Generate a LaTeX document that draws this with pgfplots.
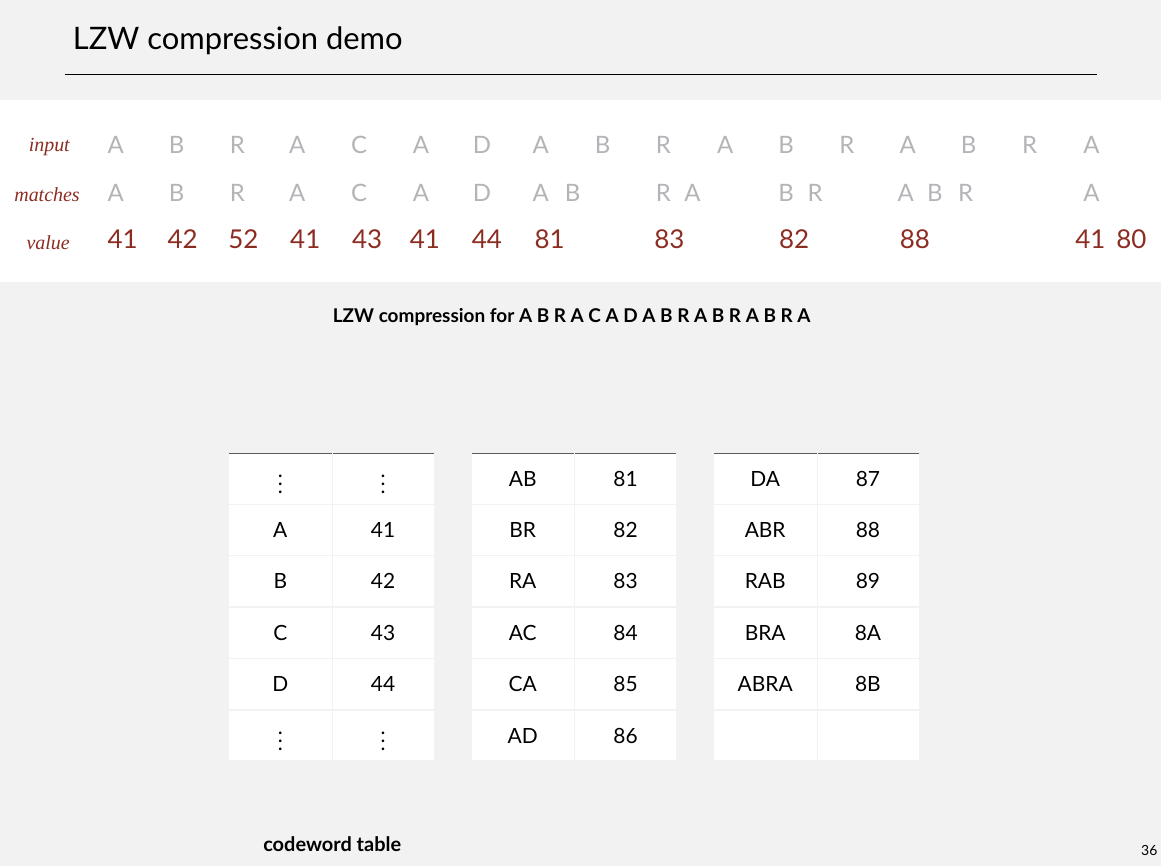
\documentclass[border=0pt]{standalone}
\usepackage{pgfplots}
\usepackage{pgfplotstable}
\pgfplotsset{compat=1.18}
\usepackage{fontspec}
\setmainfont{Lato}
\newfontfamily\serifit{Liberation Serif}
\definecolor{bg}{HTML}{F2F2F2}
\definecolor{dred}{HTML}{8C2D22}
\definecolor{lgray}{HTML}{B4B4B8}
\definecolor{hdr}{HTML}{5B5B5B}
\pgfplotstableread{
x y l
116 723 A
177 723 B
238 723 R
298 723 A
360 723 C
422 723 A
483 723 D
542 723 A
604 723 B
665 723 R
727 723 A
788 723 B
849 723 R
910 723 A
971 723 B
1032 723 R
1094 723 A
116 675 A
177 675 B
238 675 R
298 675 A
360 675 C
422 675 A
483 675 D
542 675 A
574 675 B
665 675 R
694 675 A
788 675 B
817 675 R
908 675 A
937 675 B
968 675 R
1094 675 A
}\letters
\pgfplotstableread{
x y l
123 628 41
183 628 42
244 628 52
306 628 41
368 628 43
426 628 41
488 628 44
551 628 81
671 628 83
796 628 82
917 628 88
1093 628 41
1134 628 80
}\vals
% #1 = left x, #2 = row index (1..6), #3 key, #4 value
\newcommand{\cell}[4]{%
  \fill[white] (axis cs:#1,414-#2*51.5+0.7) rectangle (axis cs:#1+102.5,414-#2*51.5+50.8);
  \fill[white] (axis cs:#1+103.5,414-#2*51.5+0.7) rectangle (axis cs:#1+205,414-#2*51.5+50.8);
  \node[font=\fontsize{10.5}{12}\selectfont] at (axis cs:#1+51,414-#2*51.5+25.75) {#3};
  \node[font=\fontsize{10.5}{12}\selectfont] at (axis cs:#1+154,414-#2*51.5+25.75) {#4};
}
\newcommand{\thead}[1]{%
  \fill[hdr] (axis cs:#1,363) rectangle (axis cs:#1+205,414);
  \draw[bg, line width=0.5pt] (axis cs:#1+103,363) -- (axis cs:#1+103,414);
  \node[text=white, font=\fontsize{11}{13}\selectfont] at (axis cs:#1+51,390) {key};
  \node[text=white, font=\fontsize{11}{13}\selectfont] at (axis cs:#1+154,390) {value};
}
\begin{document}
\begin{tikzpicture}
\begin{axis}[scale only axis, width=582pt, height=434pt, xmin=0, xmax=1164, ymin=0, ymax=868,
  axis lines=none, clip=false]
\fill[bg] (axis cs:0,0) rectangle (axis cs:1164,868);
\fill[white] (axis cs:0,585) rectangle (axis cs:1164,768);
\draw[black, line width=0.5pt] (axis cs:65,793) -- (axis cs:1100,793);
\node[anchor=west, font=\fontsize{15.5}{18}\selectfont] at (axis cs:66,827) {LZW compression demo};
\node[anchor=east, font=\serifit\itshape\fontsize{10}{12}\selectfont, text=dred] at (axis cs:77,721) {input};
\node[anchor=east, font=\serifit\itshape\fontsize{10}{12}\selectfont, text=dred] at (axis cs:87,673) {matches};
\node[anchor=east, font=\serifit\itshape\fontsize{10}{12}\selectfont, text=dred] at (axis cs:77,625) {value};
\addplot[draw=none, mark=none, nodes near coords, point meta=explicit symbolic,
  every node near coord/.style={anchor=center, font=\fontsize{12}{14}\selectfont, text=lgray}]
  table[meta=l] {\letters};
\addplot[draw=none, mark=none, nodes near coords, point meta=explicit symbolic,
  every node near coord/.style={anchor=center, font=\fontsize{13}{15}\selectfont, text=dred}]
  table[meta=l] {\vals};
\node[font=\bfseries\fontsize{9.5}{11}\selectfont] at (axis cs:573,550) {LZW compression for A B R A C A D A B R A B R A B R A};
\thead{230}
\cell{230}{1}{$\vdots$}{$\vdots$}
\cell{230}{2}{A}{41}
\cell{230}{3}{B}{42}
\cell{230}{4}{C}{43}
\cell{230}{5}{D}{44}
\cell{230}{6}{$\vdots$}{$\vdots$}
\thead{473}
\cell{473}{1}{AB}{81}
\cell{473}{2}{BR}{82}
\cell{473}{3}{RA}{83}
\cell{473}{4}{AC}{84}
\cell{473}{5}{CA}{85}
\cell{473}{6}{AD}{86}
\thead{716}
\cell{716}{1}{DA}{87}
\cell{716}{2}{ABR}{88}
\cell{716}{3}{RAB}{89}
\cell{716}{4}{BRA}{8A}
\cell{716}{5}{ABRA}{8B}
\cell{716}{6}{}{}
\node[font=\bfseries\fontsize{10}{12}\selectfont] at (axis cs:333,22) {codeword table};
\node[font=\fontsize{7}{8}\selectfont] at (axis cs:1152,15) {36};
\end{axis}
\end{tikzpicture}
\end{document}
